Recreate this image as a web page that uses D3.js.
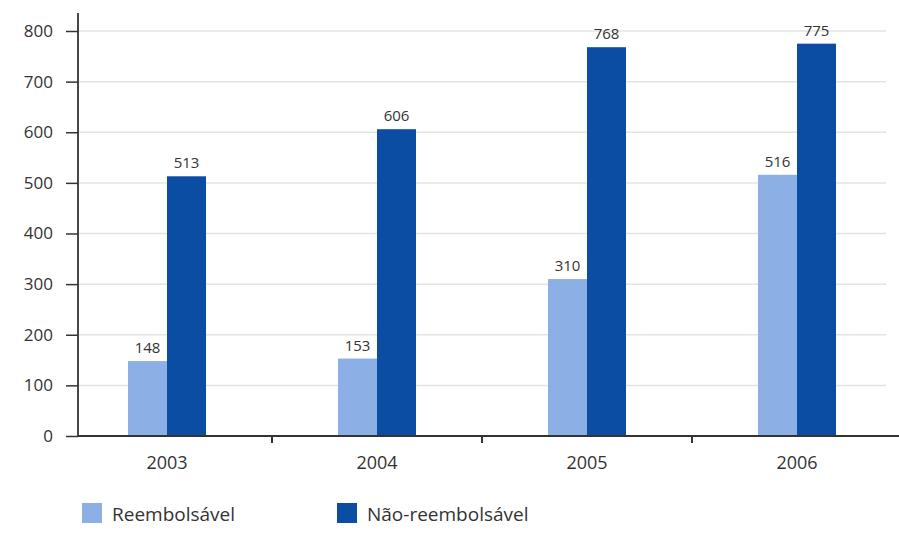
<!DOCTYPE html>
<html>
<head>
<meta charset="utf-8">
<script src="https://cdn.jsdelivr.net/npm/d3@7"></script>
<style>
  body { margin: 0; background: #fff; }
  text { font-family: "Open Sans", "Noto Sans", sans-serif; fill: #333; }
</style>
</head>
<body>
<div id="chart"></div>
<script>
// data
var years = ["2003", "2004", "2005", "2006"];
var seriesNames = ["Reembolsável", "Não-reembolsável"];
var reembolsavel = [148, 153, 310, 516];
var naoReembolsavel = [513, 606, 768, 775];
var yTicks = [0, 100, 200, 300, 400, 500, 600, 700, 800];

var colors = ["#8cb0e6", "#0b4da2"];

var width = 899, height = 540;
var axisX = 78, axisY = 436;

var svg = d3.select("#chart").append("svg")
    .attr("width", width)
    .attr("height", height);

// scales
var x = d3.scaleBand()
    .domain(years)
    .range([62, 902]);
var inner = d3.scaleBand()
    .domain([0, 1])
    .range([-39, 39]);
var y = d3.scaleLinear()
    .domain([0, 800])
    .range([axisY, 31]);

// gridlines
svg.append("g")
    .selectAll("line")
    .data(yTicks.filter(function(d) { return d > 0; }))
    .enter().append("line")
    .attr("x1", axisX)
    .attr("x2", 886)
    .attr("y1", function(d) { return y(d); })
    .attr("y2", function(d) { return y(d); })
    .attr("stroke", "#e4e4e4")
    .attr("stroke-width", 1.5);

// bars
var groups = svg.append("g")
    .selectAll("g")
    .data(years)
    .enter().append("g")
    .attr("transform", function(d) { return "translate(" + (x(d) + x.bandwidth() / 2) + ",0)"; });

groups.selectAll("rect")
    .data(function(d, i) { return [reembolsavel[i], naoReembolsavel[i]]; })
    .enter().append("rect")
    .attr("x", function(d, j) { return inner(j); })
    .attr("width", inner.bandwidth())
    .attr("y", function(d) { return y(d); })
    .attr("height", function(d) { return axisY - y(d); })
    .attr("fill", function(d, j) { return colors[j]; });

groups.selectAll("text")
    .data(function(d, i) { return [reembolsavel[i], naoReembolsavel[i]]; })
    .enter().append("text")
    .attr("x", function(d, j) { return inner(j) + inner.bandwidth() / 2; })
    .attr("y", function(d) { return y(d) - 8; })
    .attr("text-anchor", "middle")
    .style("font-size", "15px")
    .text(function(d) { return d; });

// y axis
var yAxis = svg.append("g")
    .attr("transform", "translate(" + axisX + ",0)")
    .call(d3.axisLeft(y).tickValues(yTicks).tickSize(12).tickPadding(13));
yAxis.select(".domain").remove();
yAxis.selectAll("line").attr("stroke", "#333").attr("stroke-width", 1.5);
yAxis.selectAll("text")
    .style("font-size", "17px")
    .style("font-family", "'Open Sans', sans-serif")
    .attr("fill", "#333");
svg.append("line")
    .attr("x1", axisX).attr("x2", axisX)
    .attr("y1", 13).attr("y2", axisY)
    .attr("stroke", "#333").attr("stroke-width", 1.8);

// x axis
svg.append("line")
    .attr("x1", axisX).attr("x2", width)
    .attr("y1", axisY).attr("y2", axisY)
    .attr("stroke", "#333").attr("stroke-width", 1.8);

svg.append("g")
    .selectAll("line")
    .data(years.slice(1))
    .enter().append("line")
    .attr("x1", function(d) { return x(d); })
    .attr("x2", function(d) { return x(d); })
    .attr("y1", axisY)
    .attr("y2", axisY + 7)
    .attr("stroke", "#333")
    .attr("stroke-width", 2);

svg.append("g")
    .selectAll("text")
    .data(years)
    .enter().append("text")
    .attr("x", function(d) { return x(d) + x.bandwidth() / 2; })
    .attr("y", 469)
    .attr("text-anchor", "middle")
    .style("font-size", "18px")
    .text(function(d) { return d; });

// legend
var legendX = [82, 337];
var legend = svg.append("g")
    .selectAll("g")
    .data(seriesNames)
    .enter().append("g")
    .attr("transform", function(d, i) { return "translate(" + legendX[i] + ",503)"; });
legend.append("rect")
    .attr("width", 20)
    .attr("height", 20)
    .attr("fill", function(d, i) { return colors[i]; });
legend.append("text")
    .attr("x", 30)
    .attr("y", 18)
    .style("font-size", "19px")
    .text(function(d) { return d; });
</script>
</body>
</html>
